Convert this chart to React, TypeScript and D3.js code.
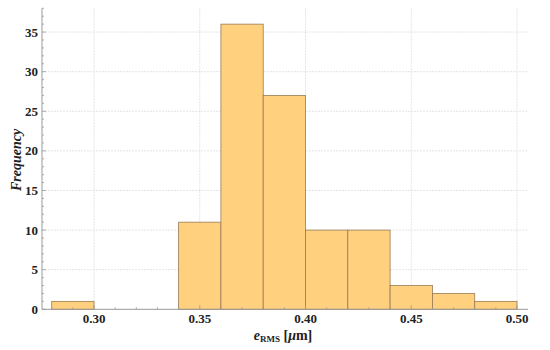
import React from "react";
import * as d3 from "d3";

const binStarts = [0.28, 0.30, 0.32, 0.34, 0.36, 0.38, 0.40, 0.42, 0.44, 0.46, 0.48];
const binWidth = 0.02;
const counts = [1, 0, 0, 11, 36, 27, 10, 10, 3, 2, 1];
const xTicks = [0.30, 0.35, 0.40, 0.45, 0.50];
const yTicks = [0, 5, 10, 15, 20, 25, 30, 35];

const W = 550, H = 350;
const x = d3.scaleLinear().domain([0.2754, 0.5052]).range([42, 528]);
const y = d3.scaleLinear().domain([0, 38]).range([309.3, 8.3]);

export default function App() {
  const xMinor = d3.range(0.28, 0.5051, 0.01);
  const yMinor = d3.range(0, 38.01, 1);
  const font = "Liberation Serif, serif";
  return (
    <svg width={W} height={H} style={{ position: "absolute", left: 0, top: 0, fontFamily: font }}>
      <rect width={W} height={H} fill="#fff" />
      {xTicks.map((t) => (
        <line key={"gx" + t} x1={x(t)} x2={x(t)} y1={y(38)} y2={y(0)} stroke="#e4e4e4" strokeWidth={1} strokeDasharray="2,1" />
      ))}
      {yTicks.filter((t) => t > 0).map((t) => (
        <line key={"gy" + t} x1={x.range()[0]} x2={x.range()[1]} y1={y(t)} y2={y(t)} stroke="#e4e4e4" strokeWidth={1} strokeDasharray="2,1" />
      ))}
      {binStarts.map((b, i) =>
        counts[i] > 0 ? (
          <rect
            key={"b" + i}
            x={x(b)}
            y={y(counts[i])}
            width={x(b + binWidth) - x(b)}
            height={y(0) - y(counts[i])}
            fill="#FFD07E"
            stroke="#9a7a55"
            strokeWidth={0.8}
          />
        ) : null
      )}
      <line x1={x.range()[0]} x2={x.range()[1]} y1={y(0)} y2={y(0)} stroke="#999" strokeWidth={1} />
      <line x1={x.range()[0]} x2={x.range()[0]} y1={y(0)} y2={y(38)} stroke="#999" strokeWidth={1} />
      {xMinor.map((t, i) => (
        <line key={"xm" + i} x1={x(t)} x2={x(t)} y1={y(0)} y2={y(0) - (i % 5 === 2 ? 4 : 2)} stroke="#999" strokeWidth={0.8} />
      ))}
      {yMinor.map((t, i) => (
        <line key={"ym" + i} x1={x.range()[0]} x2={x.range()[0] + (i % 5 === 0 ? 4 : 2)} y1={y(t)} y2={y(t)} stroke="#999" strokeWidth={0.8} />
      ))}
      {xTicks.map((t) => (
        <text key={"tx" + t} x={x(t)} y={323} textAnchor="middle" fontSize={13} fontWeight="bold" fill="#222">
          {t.toFixed(2)}
        </text>
      ))}
      {yTicks.map((t) => (
        <text key={"ty" + t} x={38} y={y(t) + 4.5} textAnchor="end" fontSize={13} fontWeight="bold" fill="#222">
          {t}
        </text>
      ))}
      <text x={283} y={340} textAnchor="middle" fontSize={14} fontWeight="bold" fill="#222">
        <tspan fontStyle="italic">e</tspan>
        <tspan fontSize={9} dy={2}>RMS</tspan>
        <tspan dy={-2}> [</tspan>
        <tspan fontStyle="italic">μ</tspan>
        <tspan>m]</tspan>
      </text>
      <text transform="translate(21,160) rotate(-90)" textAnchor="middle" fontSize={14} fontWeight="bold" fontStyle="italic" fill="#222">
        Frequency
      </text>
    </svg>
  );
}
